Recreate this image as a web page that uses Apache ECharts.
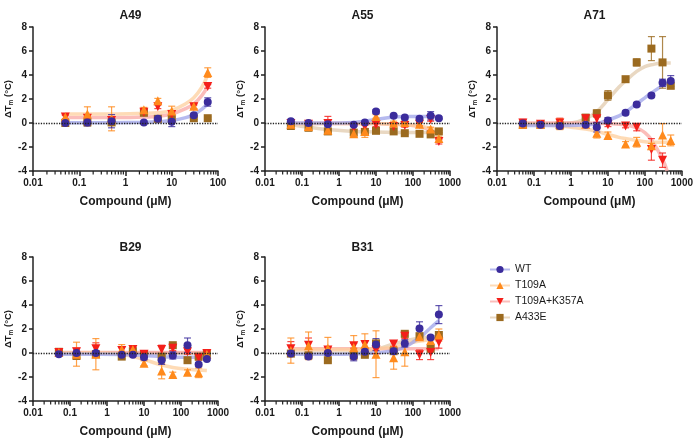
<!DOCTYPE html>
<html>
<head>
<meta charset="utf-8">
<script src="https://cdn.jsdelivr.net/npm/echarts@6/dist/echarts.min.js"></script>
<style>
  html, body { margin: 0; padding: 0; background: #fff; }
  #main { width: 696px; height: 439px; }
</style>
</head>
<body>
<div id="main"></div>
<script>
// 浓度 (µM)
var CONC = [0.05, 0.15, 0.5, 2.5, 5, 10, 30, 60, 150, 300, 500];
var CONC_A49 = [0.05, 0.15, 0.5, 2.5, 5, 10, 30, 60];
var CONC_A71_RED = [0.05, 0.15, 0.5, 2.5, 5, 10, 30, 60, 150, 300];

var VARIANTS = ['WT', 'T109A', 'T109A+K357A', 'A433E'];
var Y_TICKS = [-4, -2, 0, 2, 4, 6, 8];
var MINOR_STEPS = [2, 3, 4, 5, 6, 7, 8, 9];

// A49
var A49_WT = [0.0, 0.05, 0.15, 0.05, 0.35, 0.1, 0.65, 1.75];
var A49_WT_SD = [0.1, 0.3, 0.55, 0.1, 0.1, 0.4, 0.15, 0.35];
var A49_T = [0.5, 0.75, 0.35, 1.1, 1.85, 1.0, 1.4, 4.2];
var A49_T_SD = [0.2, 0.6, 1.0, 0.2, 0.2, 0.4, 0.25, 0.4];
var A49_TK = [0.5, 0.4, 0.2, 0.9, 1.35, 0.7, 1.35, 3.05];
var A49_TK_SD = [0.15, 0.15, 0.15, 0.15, 0.15, 0.15, 0.15, 0.15];
var A49_E = [0.0, 0.05, 0.05, 0.85, 0.35, 0.35, 0.4, 0.4];
var A49_E_SD = [0.15, 0.15, 0.15, 0.15, 0.1, 0.1, 0.1, 0.1];
var A49_WT_FIT = [[0.05, 0.02], [0.5, 0.03], [2.5, 0.06], [5, 0.1], [10, 0.2], [20, 0.45], [30, 0.7], [45, 1.15], [60, 1.6]];
var A49_T_FIT = [[0.05, 0.75], [0.5, 0.75], [2.5, 0.8], [5, 0.85], [10, 1.05], [20, 1.6], [30, 2.1], [45, 3.0], [60, 4.0]];
var A49_TK_FIT = [[0.05, 0.45], [0.5, 0.45], [2.5, 0.5], [5, 0.55], [10, 0.75], [20, 1.2], [30, 1.6], [45, 2.3], [60, 3.05]];

// A55
var A55_WT = [0.15, 0.0, -0.1, -0.15, 0.05, 0.95, 0.6, 0.45, 0.35, 0.6, 0.4];
var A55_WT_SD = [0.15, 0.1, 0.15, 0.1, 0.1, 0.15, 0.1, 0.1, 0.1, 0.35, 0.1];
var A55_T = [-0.1, -0.3, -0.6, -0.9, -0.7, 0.55, 0.0, 0.05, -0.1, -0.5, -1.3];
var A55_T_SD = [0.15, 0.15, 0.15, 0.15, 0.5, 0.15, 0.15, 0.15, 0.15, 0.15, 0.2];
var A55_TK = [-0.05, -0.1, -0.05, -0.4, -0.3, -0.15, -0.3, -0.2, -0.1, 0.3, -1.55];
var A55_TK_SD = [0.1, 0.1, 0.6, 0.15, 0.15, 0.15, 0.15, 0.15, 0.15, 0.15, 0.2];
var A55_E = [-0.25, -0.4, -0.7, -0.8, -0.75, -0.65, -0.7, -0.85, -0.9, -0.95, -0.7];
var A55_E_SD = [0.1, 0.1, 0.15, 0.15, 0.15, 0.1, 0.1, 0.1, 0.1, 0.1, 0.1];
var A55_WT_FIT = [[0.05, 0.0], [0.5, 0.0], [2.5, 0.05], [5, 0.15], [10, 0.3], [30, 0.5], [60, 0.55], [500, 0.55]];
var A55_T_FIT = [[0.05, -0.05], [10, -0.05], [30, -0.1], [60, -0.15], [150, -0.25], [300, -0.45], [500, -0.6]];
var A55_TK_FIT = [[0.05, -0.05], [10, -0.05], [30, -0.1], [60, -0.15], [150, -0.3], [300, -0.6], [500, -0.9]];
var A55_E_FIT = [[0.05, -0.15], [0.15, -0.35], [0.5, -0.55], [2.5, -0.7], [10, -0.75], [60, -0.8], [500, -0.8]];

// A71
var A71_WT = [-0.05, -0.15, -0.25, -0.15, -0.35, 0.2, 0.85, 1.55, 2.3, 3.35, 3.5];
var A71_WT_SD = [0.2, 0.15, 0.15, 0.15, 0.4, 0.25, 0.15, 0.15, 0.15, 0.3, 0.45];
var A71_T = [-0.1, -0.1, -0.1, -0.1, -0.85, -1.05, -1.75, -1.6, -1.9, -1.0, -1.45];
var A71_T_SD = [0.3, 0.15, 0.45, 0.15, 0.4, 0.3, 0.2, 0.4, 0.2, 0.95, 0.45];
var A71_TK = [0.0, -0.1, 0.0, 0.35, 0.35, -0.15, -0.25, -0.35, -2.2, -3.1];
var A71_TK_SD = [0.3, 0.15, 0.4, 0.15, 0.3, 0.15, 0.15, 0.3, 0.9, 0.6];
var A71_E = [-0.15, -0.15, -0.2, 0.45, 0.8, 2.3, 3.65, 5.05, 6.2, 5.05, 3.1];
var A71_E_SD = [0.15, 0.15, 0.15, 0.2, 0.3, 0.4, 0.15, 0.3, 1.0, 2.15, 0.2];
var A71_WT_FIT = [[0.05, -0.2], [1, -0.2], [2.5, -0.15], [5, -0.05], [10, 0.25], [20, 0.6], [30, 0.9], [60, 1.6], [100, 2.1], [150, 2.5], [300, 3.1], [500, 3.35]];
var A71_T_FIT = [[0.05, -0.1], [0.15, -0.15], [0.5, -0.25], [1, -0.35], [2.5, -0.5], [5, -0.7], [10, -0.95], [20, -1.2], [30, -1.3], [60, -1.45], [150, -1.6], [500, -1.6]];
var A71_TK_FIT = [[0.05, 0.0], [2.5, 0.0], [10, -0.05], [30, -0.15], [60, -0.4], [100, -0.8], [150, -1.4], [300, -3.0], [400, -4.0]];
var A71_E_FIT = [[0.05, -0.1], [0.5, -0.05], [1, 0.0], [2.5, 0.35], [5, 0.95], [10, 1.95], [20, 3.0], [30, 3.5], [60, 4.3], [100, 4.7], [150, 4.85], [300, 5.0], [500, 5.0]];

// B29
var B29_WT = [-0.1, 0.0, 0.0, -0.15, -0.15, -0.35, -0.6, -0.2, 0.65, -0.95, -0.5];
var B29_WT_SD = [0.1, 0.1, 0.15, 0.1, 0.1, 0.2, 0.35, 0.3, 0.6, 0.15, 0.1];
var B29_T = [0.05, -0.1, -0.1, 0.3, 0.3, -0.85, -1.5, -1.8, -1.6, -1.65, -0.1];
var B29_T_SD = [0.15, 1.0, 1.3, 0.4, 0.3, 0.2, 0.65, 0.2, 0.2, 0.4, 0.15];
var B29_TK = [0.05, 0.1, 0.35, 0.2, 0.3, -0.1, 0.3, 0.4, 0.1, -0.4, -0.05];
var B29_TK_SD = [0.1, 0.3, 0.5, 0.3, 0.3, 0.2, 0.35, 0.2, 0.2, 0.2, 0.1];
var B29_E = [0.1, -0.25, -0.1, -0.3, 0.15, -0.1, -0.3, 0.65, -0.6, -0.3, -0.05];
var B29_E_SD = [0.1, 0.15, 0.15, 0.15, 0.15, 0.15, 0.15, 0.15, 0.15, 0.15, 0.1];
var B29_WT_FIT = [[0.05, -0.1], [2.5, -0.12], [10, -0.2], [30, -0.3], [100, -0.35], [500, -0.35]];
var B29_T_FIT = [[0.05, 0.0], [0.5, 0.0], [1, -0.02], [2.5, -0.1], [5, -0.3], [10, -0.55], [30, -1.0], [60, -1.2], [150, -1.35], [500, -1.45]];
var B29_TK_FIT = [[0.05, 0.05], [500, 0.05]];
var B29_E_FIT = [[0.05, 0.0], [500, 0.0]];

// B31
var B31_WT = [-0.05, -0.3, 0.0, -0.3, 0.1, 0.7, 0.15, 0.8, 2.05, 1.3, 3.2];
var B31_WT_SD = [0.15, 0.15, 0.15, 0.35, 0.2, 0.5, 0.2, 0.3, 0.55, 0.15, 0.75];
var B31_T = [0.2, 0.6, 0.4, 0.45, 0.7, -0.1, -0.4, 0.1, 1.35, 1.05, 1.5];
var B31_T_SD = [1.05, 1.15, 0.9, 1.0, 0.9, 1.95, 0.95, 1.2, 0.3, 0.3, 0.5];
var B31_TK = [0.35, 0.65, 0.25, 0.6, 0.7, 0.25, 0.75, 1.4, -0.15, 0.05, 0.9];
var B31_TK_SD = [0.6, 0.6, 0.2, 0.2, 0.3, 0.3, 0.2, 0.2, 0.4, 0.6, 0.5];
var B31_E = [-0.05, -0.2, -0.6, -0.2, -0.15, 0.8, 0.15, 1.6, 1.4, 0.35, 1.5];
var B31_E_SD = [0.15, 0.15, 0.15, 0.15, 0.15, 0.15, 0.15, 0.15, 0.15, 0.15, 0.15];
var B31_WT_FIT = [[0.05, -0.1], [1, -0.1], [5, -0.05], [10, 0.0], [30, 0.2], [60, 0.5], [100, 0.9], [200, 1.6], [300, 2.1], [500, 2.7]];
var B31_T_FIT = [[0.05, 0.3], [5, 0.3], [10, 0.35], [30, 0.5], [60, 0.7], [100, 0.9], [200, 1.05], [500, 1.2]];
var B31_TK_FIT = [[0.05, 0.35], [500, 0.35]];
var B31_E_FIT = [[0.05, 0.0], [2.5, 0.0], [5, 0.1], [10, 0.3], [30, 0.75], [60, 1.0], [100, 1.15], [200, 1.3], [500, 1.35]];

// 样式
var MARK_COLOR = ['#3b2c9c', '#ff8a1c', '#f41f1a', '#9b6a1f'];
var FIT_COLOR = ['#9ea3ea', '#fdcf9e', '#f9a7a3', '#e2cbad'];
var SYMBOL = ['circle', 'triangle', 'triangle', 'rect'];
var SYMBOL_ROT = [0, 0, 180, 0];
var SYMBOL_SIZE = [8, 9, 9, 8];
var FONT = 'Liberation Sans, Arial, sans-serif';
var TXT = '#1a1a1a';

// 面板布局
var LAYOUT = [
  {left: 33, top: 27, width: 185, height: 144, titleTop: 5},
  {left: 265, top: 27, width: 185, height: 144, titleTop: 5},
  {left: 497, top: 27, width: 185, height: 144, titleTop: 5},
  {left: 33, top: 257, width: 185, height: 146, titleTop: 237},
  {left: 265, top: 257, width: 185, height: 146, titleTop: 237}
];

var PANELS = [
  {title: 'A49', xMax: 100,
    x: [CONC_A49, CONC_A49, CONC_A49, CONC_A49],
    y: [A49_WT, A49_T, A49_TK, A49_E], sd: [A49_WT_SD, A49_T_SD, A49_TK_SD, A49_E_SD],
    fit: [A49_WT_FIT, A49_T_FIT, A49_TK_FIT, null]},
  {title: 'A55', xMax: 1000,
    x: [CONC, CONC, CONC, CONC],
    y: [A55_WT, A55_T, A55_TK, A55_E], sd: [A55_WT_SD, A55_T_SD, A55_TK_SD, A55_E_SD],
    fit: [A55_WT_FIT, A55_T_FIT, A55_TK_FIT, A55_E_FIT]},
  {title: 'A71', xMax: 1000,
    x: [CONC, CONC, CONC_A71_RED, CONC],
    y: [A71_WT, A71_T, A71_TK, A71_E], sd: [A71_WT_SD, A71_T_SD, A71_TK_SD, A71_E_SD],
    fit: [A71_WT_FIT, A71_T_FIT, A71_TK_FIT, A71_E_FIT]},
  {title: 'B29', xMax: 1000,
    x: [CONC, CONC, CONC, CONC],
    y: [B29_WT, B29_T, B29_TK, B29_E], sd: [B29_WT_SD, B29_T_SD, B29_TK_SD, B29_E_SD],
    fit: [B29_WT_FIT, B29_T_FIT, B29_TK_FIT, B29_E_FIT]},
  {title: 'B31', xMax: 1000,
    x: [CONC, CONC, CONC, CONC],
    y: [B31_WT, B31_T, B31_TK, B31_E], sd: [B31_WT_SD, B31_T_SD, B31_TK_SD, B31_E_SD],
    fit: [B31_WT_FIT, B31_T_FIT, B31_TK_FIT, B31_E_FIT]}
];

// 对数轴次刻度 (2..9 × 10^n)
function minorTicks(xMax) {
  var out = [];
  for (var d = 0.01; d < xMax; d *= 10) {
    MINOR_STEPS.forEach(function(k) { out.push([+(d * k).toPrecision(3), Y_TICKS[0]]); });
  }
  return out;
}

function errorRender(params, api) {
  var x = api.value(0);
  var lo = api.coord([x, api.value(1)]);
  var hi = api.coord([x, api.value(2)]);
  var c = api.visual('color');
  var st = {stroke: c, lineWidth: 1.2, opacity: 0.8};
  return {type: 'group', children: [
    {type: 'line', shape: {x1: lo[0], y1: lo[1], x2: hi[0], y2: hi[1]}, style: st},
    {type: 'line', shape: {x1: lo[0] - 3.5, y1: lo[1], x2: lo[0] + 3.5, y2: lo[1]}, style: st},
    {type: 'line', shape: {x1: hi[0] - 3.5, y1: hi[1], x2: hi[0] + 3.5, y2: hi[1]}, style: st}
  ]};
}

// 次刻度：从x轴向下画短线
function minorRender(params, api) {
  var p = api.coord([api.value(0), api.value(1)]);
  return {type: 'line', shape: {x1: p[0], y1: p[1], x2: p[0], y2: p[1] + 3.5},
    style: {stroke: '#222', lineWidth: 1.2}};
}

var titles = [], grids = [], xAxes = [], yAxes = [];
var fitSeries = [], markSeries = [], errSeries = [], tickSeries = [];

PANELS.forEach(function(p, i) {
  var L = LAYOUT[i];
  grids.push({left: L.left, top: L.top, width: L.width, height: L.height});
  titles.push({text: p.title, left: L.left + L.width / 2, top: L.titleTop, textAlign: 'center',
    textStyle: {fontFamily: FONT, fontSize: 12, fontWeight: 'bold', color: TXT}});
  xAxes.push({
    gridIndex: i, type: 'log', logBase: 10, min: 0.01, max: p.xMax,
    name: 'Compound (μM)', nameLocation: 'middle', nameGap: 25,
    nameTextStyle: {fontFamily: FONT, fontSize: 12, fontWeight: 'bold', color: TXT},
    axisLine: {show: true, onZero: false, lineStyle: {color: '#222', width: 1.5}},
    axisTick: {show: true, length: 5, lineStyle: {color: '#222', width: 1.5}},
    axisLabel: {fontFamily: FONT, fontSize: 10, fontWeight: 'bold', color: TXT, margin: 7,
      formatter: function(v) { return String(+(+v).toPrecision(3)); }},
    splitLine: {show: false}
  });
  yAxes.push({
    gridIndex: i, type: 'value', min: Y_TICKS[0], max: Y_TICKS[Y_TICKS.length - 1], interval: 2,
    name: 'ΔT{m|m} (°C)', nameLocation: 'middle', nameGap: 17, nameRotate: 90,
    nameTextStyle: {fontFamily: FONT, fontSize: 9.5, fontWeight: 'bold', color: TXT,
      rich: {m: {fontFamily: FONT, fontSize: 6.5, fontWeight: 'bold', color: TXT, padding: [5, 0, 0, 0]}}},
    axisLine: {show: true, lineStyle: {color: '#222', width: 1.5}},
    axisTick: {show: true, length: 4, lineStyle: {color: '#222', width: 1.5}},
    axisLabel: {fontFamily: FONT, fontSize: 10, fontWeight: 'bold', color: TXT, margin: 6},
    splitLine: {show: false}
  });

  tickSeries.push({type: 'custom', xAxisIndex: i, yAxisIndex: i, silent: true, clip: false,
    encode: {x: 0, y: 1}, data: minorTicks(p.xMax), renderItem: minorRender, z: 5});

  for (var v = VARIANTS.length - 1; v >= 0; v--) {
    var xs = p.x[v], ys = p.y[v], sds = p.sd[v];
    if (p.fit[v]) {
      fitSeries.push({
        name: VARIANTS[v], type: 'line', xAxisIndex: i, yAxisIndex: i, smooth: 0.4,
        data: p.fit[v], showSymbol: false, symbol: SYMBOL[v], symbolRotate: SYMBOL_ROT[v],
        symbolSize: SYMBOL_SIZE[v], silent: true,
        itemStyle: {color: MARK_COLOR[v]},
        lineStyle: {color: FIT_COLOR[v], width: 3.5, opacity: 0.75}, z: 2
      });
    }
    errSeries.push({
      name: VARIANTS[v], type: 'custom', xAxisIndex: i, yAxisIndex: i, silent: true,
      itemStyle: {color: MARK_COLOR[v]}, renderItem: errorRender, z: 3,
      encode: {x: 0, y: [1, 2]},
      data: xs.map(function(x, j) { return [x, ys[j] - sds[j], ys[j] + sds[j]]; })
    });
    var ms = {
      name: VARIANTS[v], type: 'scatter', xAxisIndex: i, yAxisIndex: i,
      symbol: SYMBOL[v], symbolRotate: SYMBOL_ROT[v], symbolSize: SYMBOL_SIZE[v],
      itemStyle: {color: MARK_COLOR[v], opacity: 1}, z: 4,
      data: xs.map(function(x, j) { return [x, ys[j]]; })
    };
    if (v === 0) {
      ms.markLine = {silent: true, symbol: 'none', label: {show: false},
        lineStyle: {color: '#222', type: 'dotted', width: 1.3}, data: [{yAxis: 0}]};
    }
    markSeries.push(ms);
  }
});

var myChart = echarts.init(document.getElementById('main'));
var option = {
  backgroundColor: '#fff',
  animation: false,
  title: titles,
  grid: grids,
  xAxis: xAxes,
  yAxis: yAxes,
  legend: {
    data: VARIANTS, orient: 'vertical', left: 484, top: 259,
    itemWidth: 20, itemHeight: 9, itemGap: 5,
    textStyle: {fontFamily: FONT, fontSize: 10.5, color: TXT}
  },
  series: fitSeries.concat(errSeries, markSeries, tickSeries)
};
myChart.setOption(option);
</script>
</body>
</html>
